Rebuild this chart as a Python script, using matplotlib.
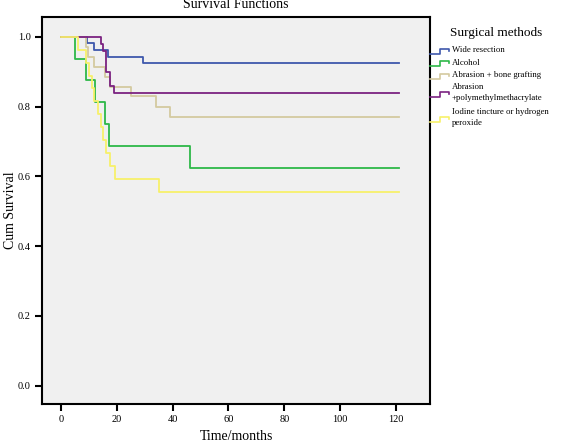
import matplotlib
matplotlib.use('Agg')
import matplotlib.pyplot as plt
from matplotlib.lines import Line2D

plt.rcParams['font.family'] = ['Liberation Serif', 'DejaVu Serif']

# Kaplan-Meier step data (months, cumulative survival).
methods = ['Wide resection', 'Alcohol', 'Abrasion + bone grafting',
           'Abrasion\n+polymethylmethacrylate', 'Iodine tincture or hydrogen\nperoxide']

wide_times = [0, 9.4, 12.0, 17.0, 29.3, 121]
wide_surv = [1.0, 0.981, 0.962, 0.943, 0.925, 0.925]

alcohol_times = [0, 5.0, 9.1, 12.3, 15.8, 17.2, 46.2, 121]
alcohol_surv = [1.0, 0.9375, 0.875, 0.8125, 0.75, 0.6875, 0.625, 0.625]

bone_times = [0, 9.0, 9.8, 11.9, 15.8, 17.6, 25.1, 34.1, 39.1, 121]
bone_surv = [1.0, 0.971, 0.943, 0.914, 0.886, 0.857, 0.829, 0.80, 0.771, 0.771]

pmma_times = [0, 14.3, 15.2, 16.0, 17.6, 19.0, 121]
pmma_surv = [1.0, 0.979, 0.958, 0.90, 0.86, 0.838, 0.838]

iodine_times = [0, 6.2, 8.9, 10.1, 11.0, 12.0, 13.2, 14.3, 15.2, 16.3, 17.6, 19.2, 35.1, 121]
iodine_surv = [1.0, 0.963, 0.926, 0.889, 0.852, 0.815, 0.778, 0.741, 0.704, 0.667, 0.630, 0.593, 0.556, 0.556]

series_times = [wide_times, alcohol_times, bone_times, pmma_times, iodine_times]
series_surv = [wide_surv, alcohol_surv, bone_surv, pmma_surv, iodine_surv]
colors = ['#3e58ac', '#2eb848', '#d4caa0', '#7b2281', '#f7f16a']

x_ticks = [0, 20, 40, 60, 80, 100, 120]
y_ticks = [0.0, 0.2, 0.4, 0.6, 0.8, 1.0]

W, H = 562, 445
fig = plt.figure(figsize=(W / 100, H / 100), dpi=100)
ax = fig.add_axes([41.7 / W, 1 - 404 / H, (430 - 41.7) / W, (404 - 17.3) / H])
ax.set_facecolor('#f0f0f0')

for t, s, c in zip(series_times, series_surv, colors):
    ax.step(t, s, where='post', color=c, linewidth=1.3)

ax.set_xlim(-6.9, 132.2)
ax.set_ylim(-0.053, 1.056)
ax.set_xticks(x_ticks)
ax.set_yticks(y_ticks)
ax.set_yticklabels([f'{v:.1f}' for v in y_ticks])
ax.tick_params(direction='out', length=5, width=1.5, labelsize=7.5, pad=3)
for sp in ax.spines.values():
    sp.set_linewidth(1.5)


def px(x, y):
    return x / W, 1 - y / H


# Axis labels and title placed in figure pixels to match the reference.
fig.text(*px(236, 436), 'Time/months', fontsize=10, ha='center', va='center')
fig.text(*px(10, 210.6), 'Cum Survival', fontsize=10, ha='center', va='center', rotation=90)
fig.text(*px(236, 5), 'Survival Functions', fontsize=10, ha='center', va='center')

# Legend drawn by hand to mimic the SPSS step-shaped key.
fig.text(*px(496, 32.7), 'Surgical methods', fontsize=9.5, ha='center', va='center')

line_h = 11.8
y_top = 46.5
for label, c in zip(methods, colors):
    n_lines = label.count('\n') + 1
    block_h = line_h * n_lines
    fig.text(*px(452, y_top), label, fontsize=6.3, ha='left', va='top',
             linespacing=1.4)
    y_low = y_top + block_h / 2 + 1.5
    xs = [430, 440, 440, 449, 449]
    ys = [y_low, y_low, y_low - 5, y_low - 5, y_low - 3]
    pts = [px(a, b) for a, b in zip(xs, ys)]
    fig.add_artist(Line2D([p[0] for p in pts], [p[1] for p in pts], color=c,
                          linewidth=1.2, transform=fig.transFigure, clip_on=False))
    y_top += block_h + (1.5 if n_lines > 1 else 0.5)

fig.savefig('out.png', dpi=100)
